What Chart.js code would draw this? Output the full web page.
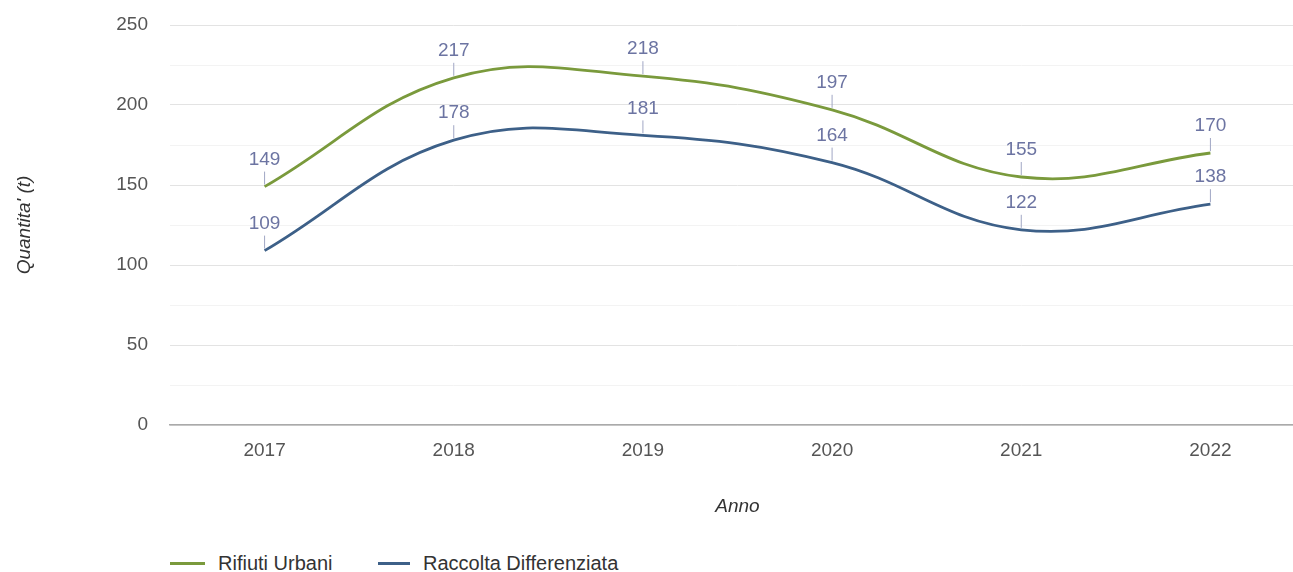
<!DOCTYPE html>
<html>
<head>
<meta charset="utf-8">
<script src="https://cdn.jsdelivr.net/npm/chart.js@4"></script>
<style>
    body { margin: 0; background: #fff; overflow: hidden; font-family: "Liberation Sans", Arial, sans-serif; }
    #wrap { position: relative; width: 1305px; height: 530px; }
    .item { position: absolute; top: 551px; font-size: 20px; line-height: 24px; color: #333; display: flex; align-items: center; }
    .swatch { display: inline-block; height: 3px; margin-right: 13px; }
</style>
</head>
<body>

<div id="wrap"><canvas id="grafico"></canvas></div>
<div class="item" style="left:170px"><span class="swatch" style="width:35px;background:#7a9a3c"></span>Rifiuti Urbani</div>
<div class="item" style="left:378px"><span class="swatch" style="width:32px;background:#3d6088"></span>Raccolta Differenziata</div>

<script>
// Dati //

const anni = ["2017", "2018", "2019", "2020", "2021", "2022"];
const rifiutiUrbani = [149, 217, 218, 197, 155, 170];
const raccoltaDifferenziata = [109, 178, 181, 164, 122, 138];
const tickEtichette = [0, 50, 100, 150, 200, 250];

const FONT = "'Liberation Sans', Arial, sans-serif";

// Etichette sopra i punti, con la lineetta //

const etichettePunti = {
    id: "etichettePunti",
    afterDatasetsDraw(chart) {
        const ctx = chart.ctx;
        ctx.save();
        ctx.font = "19px " + FONT;
        ctx.textAlign = "center";
        ctx.textBaseline = "middle";
        chart.data.datasets.forEach((ds, i) => {
            chart.getDatasetMeta(i).data.forEach((p, j) => {
                ctx.strokeStyle = "#a0a6c4";
                ctx.lineWidth = 1;
                ctx.beginPath();
                ctx.moveTo(p.x, p.y - 2);
                ctx.lineTo(p.x, p.y - 15);
                ctx.stroke();
                ctx.fillStyle = "#6c74a2";
                ctx.fillText(ds.data[j], p.x, p.y - 27);
            });
        });
        ctx.restore();
    }
};

new Chart(document.getElementById("grafico"), {
    type: "line",
    data: {
        labels: anni,
        datasets: [
            {
                label: "Rifiuti Urbani",
                data: rifiutiUrbani,
                borderColor: "#7a9a3c",
                borderWidth: 2.8,
                pointRadius: 0,
                tension: 0.4
            },
            {
                label: "Raccolta Differenziata",
                data: raccoltaDifferenziata,
                borderColor: "#3d6088",
                borderWidth: 2.8,
                pointRadius: 0,
                tension: 0.4
            }
        ]
    },
    options: {
        responsive: true,
        maintainAspectRatio: false,
        animation: false,
        layout: { padding: { top: 25, right: 0, bottom: 10, left: 0 } },
        plugins: {
            legend: { display: false },
            tooltip: { enabled: false }
        },
        scales: {
            x: {
                offset: true,
                grid: { display: false, drawTicks: false },
                border: { display: true, color: "#aaaaaa", width: 1.5 },
                ticks: { color: "#555", padding: 14, font: { size: 19, family: FONT } },
                title: {
                    display: true,
                    text: "Anno",
                    color: "#333",
                    padding: { top: 0, bottom: 2 },
                    font: { size: 19, style: "italic", family: FONT }
                },
                afterFit(scale) {
                    scale.height = 95;
                    scale.paddingLeft = 0;
                    scale.paddingRight = 0;
                }
            },
            y: {
                min: 0,
                max: 250,
                grid: {
                    drawTicks: false,
                    color: (c) => (c.tick && tickEtichette.includes(c.tick.value)) ? "#e3e3e3" : "#f3f3f3"
                },
                border: { display: false },
                ticks: {
                    stepSize: 25,
                    padding: 22,
                    color: "#555",
                    font: { size: 19, family: FONT },
                    callback: (v) => tickEtichette.includes(v) ? v : ""
                },
                title: {
                    display: true,
                    text: "Quantita' (t)",
                    color: "#333",
                    padding: { top: 13, bottom: 0 },
                    font: { size: 19, style: "italic", family: FONT }
                },
                afterFit(scale) {
                    scale.width = 170;
                    scale.paddingTop = 0;
                    scale.paddingBottom = 0;
                }
            }
        }
    },
    plugins: [etichettePunti]
});
</script>
</body>
</html>
